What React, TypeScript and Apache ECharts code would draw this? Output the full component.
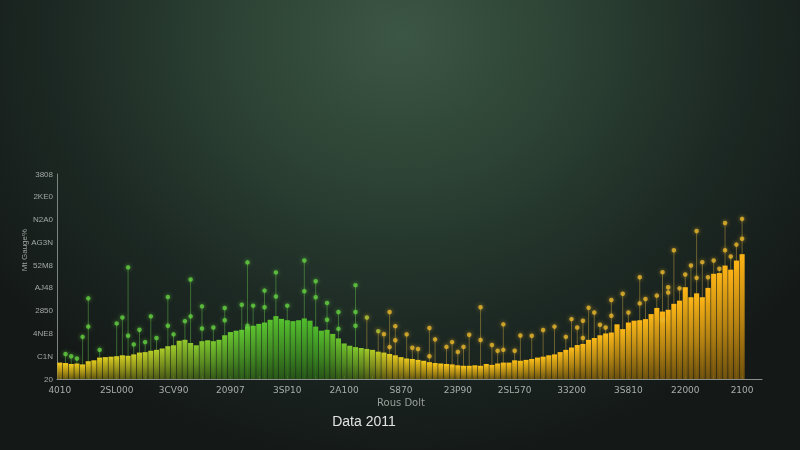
import React, { useEffect, useRef } from "react";
import * as echarts from "echarts";

// ---- data ----
const xLabels = ["4010", "2SL000", "3CV90", "20907", "3SP10", "2A100", "S870", "23P90", "2SL570", "33200", "3S810", "22000", "2100"];
const yTickLabels = ["20", "C1N", "4NE8", "2850", "AJ48", "52M8", "AG3N", "N2A0", "2KE0", "3808"];
const CATEGORY_COUNT = 124;

const barValues = [
  360, 350, 330, 340, 320, 390, 410, 470, 480, 490,
  500, 520, 510, 540, 580, 590, 620, 640, 670, 720,
  740, 840, 860, 790, 740, 830, 850, 830, 860, 960,
  1030, 1060, 1080, 1150, 1170, 1210, 1240, 1300, 1380, 1320,
  1290, 1270, 1290, 1330, 1280, 1150, 1060, 1080, 990, 890,
  780, 730, 700, 680, 660, 640, 600, 580, 550, 520,
  480, 450, 440, 420, 400, 370, 350, 340, 330, 320,
  300, 290, 290, 300, 290, 330, 310, 340, 360, 360,
  410, 400, 420, 440, 470, 490, 520, 540, 590, 640,
  690, 745, 770, 860, 900, 960, 1000, 1020, 1200, 1095,
  1240, 1280, 1290, 1315, 1425, 1560, 1480, 1520, 1650, 1720,
  2015, 1795, 1880, 1795, 2000, 2310, 2325, 2490, 2400, 2600,
  2740,
];

// [category index, value] for the top of each stem
const stemTops = [
  [1, 550], [2, 500], [3, 450], [4, 925], [5, 1770], [7, 640], [10, 1220], [11, 1350], [12, 2450],
  [13, 760], [14, 1080], [15, 810], [16, 1375], [17, 900], [19, 1800], [20, 980], [22, 1270], [23, 2185],
  [25, 1595], [27, 1130], [29, 1560], [32, 1630], [33, 2560], [34, 1610], [36, 1940], [38, 2340],
  [40, 1610], [43, 2600], [45, 2145], [47, 1670], [49, 1470], [52, 2060], [54, 1350], [56, 1050],
  [57, 985], [58, 1470], [59, 1160], [61, 980], [62, 685], [63, 660], [65, 1120], [66, 870], [68, 705],
  [69, 810], [70, 595], [71, 705], [72, 970], [74, 1575], [76, 745], [77, 620], [78, 1200], [80, 620],
  [81, 955], [83, 950], [85, 1075], [87, 1150], [89, 925], [90, 1315], [91, 1130], [92, 1280], [93, 1565],
  [94, 1460], [95, 1190], [96, 1130], [97, 1735], [99, 1870], [100, 1460], [102, 2235], [103, 1755],
  [105, 1830], [106, 2345], [107, 2015], [108, 2825], [109, 1990], [110, 2295], [111, 2490], [112, 3250],
  [113, 2565], [114, 2235], [115, 2600], [116, 2420], [117, 3425], [118, 2690], [119, 2950], [120, 3515],
];

// extra dots placed along some stems
const stemExtraDots = [
  [5, 1150], [12, 950], [19, 1170], [23, 1375], [25, 1110], [29, 1290], [33, 1170], [36, 1575],
  [38, 1810], [43, 1925], [45, 1795], [47, 1300], [49, 1100], [52, 1470], [52, 1170], [58, 700],
  [59, 850], [65, 500], [74, 855], [78, 640], [92, 900], [97, 1390], [102, 1660], [106, 1300],
  [107, 1900], [112, 2220], [117, 2825], [120, 3080],
];

// ---- styling helpers ----
const topStops: [number, number[]][] = [
  [0, [240, 196, 25]], [12, [200, 200, 34]], [22, [140, 192, 42]], [32, [92, 191, 46]],
  [45, [76, 181, 42]], [52, [124, 192, 42]], [58, [216, 194, 30]], [66, [242, 192, 24]],
  [90, [242, 180, 23]], [123, [245, 172, 20]],
];
function colorAt(i: number): number[] {
  for (let k = 0; k < topStops.length - 1; k++) {
    const [a, ca] = topStops[k];
    const [b, cb] = topStops[k + 1];
    if (i >= a && i <= b) {
      const t = (i - a) / (b - a);
      return ca.map((c, j) => Math.round(c + (cb[j] - c) * t));
    }
  }
  return topStops[topStops.length - 1][1];
}
const rgba = (c: number[], a: number, f = 1) =>
  `rgba(${Math.min(255, Math.round(c[0] * f))},${Math.min(255, Math.round(c[1] * f))},${Math.min(255, Math.round(c[2] * f))},${a})`;

const dotColor = (i: number) => (i <= 52 ? "#63cf40" : i <= 56 ? "#b0c834" : "#e9b62c");
const dotGlow = (i: number) => (i <= 52 ? "rgba(99,207,64,0.8)" : "rgba(233,182,44,0.8)");
const stemColor = (i: number) => (i <= 52 ? "rgba(90,170,70,0.55)" : "rgba(175,148,60,0.55)");

export default function App() {
  const ref = useRef<HTMLDivElement>(null);
  useEffect(() => {
    if (!ref.current) return;
    const chart = echarts.init(ref.current, undefined, { renderer: "svg" });

    const categories = Array.from({ length: CATEGORY_COUNT }, (_, i) => `c${i}`);
    const barData = barValues.map((v, i) => {
      const c = colorAt(i);
      return {
        value: v,
        itemStyle: {
          color: new echarts.graphic.LinearGradient(0, 0, 0, 1, [
            { offset: 0, color: rgba(c, 1, 1.04) },
            { offset: 0.55, color: rgba(c, 0.92, 0.78) },
            { offset: 1, color: rgba(c, 0.85, 0.5) },
          ]),
        },
      };
    });
    const dotData = [...stemTops, ...stemExtraDots].map(([i, v]) => ({
      value: [i, v],
      itemStyle: { color: dotColor(i), shadowBlur: 4, shadowColor: dotGlow(i) },
    }));

    chart.setOption({
      animation: false,
      backgroundColor: "transparent",
      grid: { left: 57, right: 38, top: 174, bottom: 71 },
      xAxis: {
        type: "category",
        data: categories,
        boundaryGap: true,
        axisLine: { lineStyle: { color: "#8a8f8c", width: 1 } },
        axisTick: {
          show: true,
          inside: true,
          length: 3,
          alignWithLabel: true,
          interval: (idx: number) => idx % 5 === 0,
          lineStyle: { color: "#8a8f8c" },
        },
        axisLabel: {
          interval: (idx: number) => idx % 10 === 0,
          formatter: (_v: string, idx: number) => xLabels[idx / 10] ?? "",
          color: "#a9aeab",
          fontSize: 9,
          fontFamily: "DejaVu Sans",
          margin: 6,
        },
        splitLine: { show: false },
      },
      yAxis: {
        type: "value",
        min: 0,
        max: 4500,
        interval: 500,
        axisLine: { show: true, lineStyle: { color: "#7d8380" } },
        axisTick: { show: false },
        splitLine: { show: false },
        axisLabel: {
          formatter: (v: number) => yTickLabels[Math.round(v / 500)] ?? "",
          color: "#a3a8a5",
          fontSize: 8,
          fontFamily: "Liberation Sans",
          margin: 4,
        },
      },
      series: [
        {
          type: "custom",
          z: 1,
          data: stemTops,
          renderItem: (_p: any, api: any) => {
            const i = api.value(0);
            const v = api.value(1);
            const top = api.coord([i, v]);
            const bot = api.coord([i, 0]);
            return {
              type: "line",
              shape: { x1: top[0], y1: top[1], x2: bot[0], y2: bot[1] },
              style: { stroke: stemColor(i), lineWidth: 1 },
            };
          },
        },
        {
          type: "bar",
          z: 2,
          data: barData,
          barCategoryGap: "10%",
        },
        {
          type: "scatter",
          z: 3,
          symbol: "circle",
          symbolSize: 4.5,
          data: dotData,
        },
      ],
      graphic: [
        {
          type: "text",
          x: 24,
          y: 250,
          rotation: Math.PI / 2,
          style: {
            text: "Mt Gauge%",
            fill: "#9ea39f",
            font: "8px Liberation Sans",
            align: "center",
            verticalAlign: "middle",
          },
        },
        {
          type: "text",
          x: 401,
          y: 402,
          style: {
            text: "Rous Dolt",
            fill: "#9a9f9c",
            font: "10px DejaVu Sans",
            align: "center",
            verticalAlign: "middle",
          },
        },
        {
          type: "text",
          x: 364,
          y: 421,
          style: {
            text: "Data 2011",
            fill: "#e2e4e3",
            font: "14px Liberation Sans",
            align: "center",
            verticalAlign: "middle",
          },
        },
      ],
    });
    return () => chart.dispose();
  }, []);

  return (
    <div
      ref={ref}
      style={{
        position: "fixed",
        left: 0,
        top: 0,
        width: 800,
        height: 450,
        background:
          "radial-gradient(ellipse 62% 95% at 50% 8%, #3c5645 0%, #2c4234 35%, #1c2823 70%, #141917 100%)",
      }}
    />
  );
}
